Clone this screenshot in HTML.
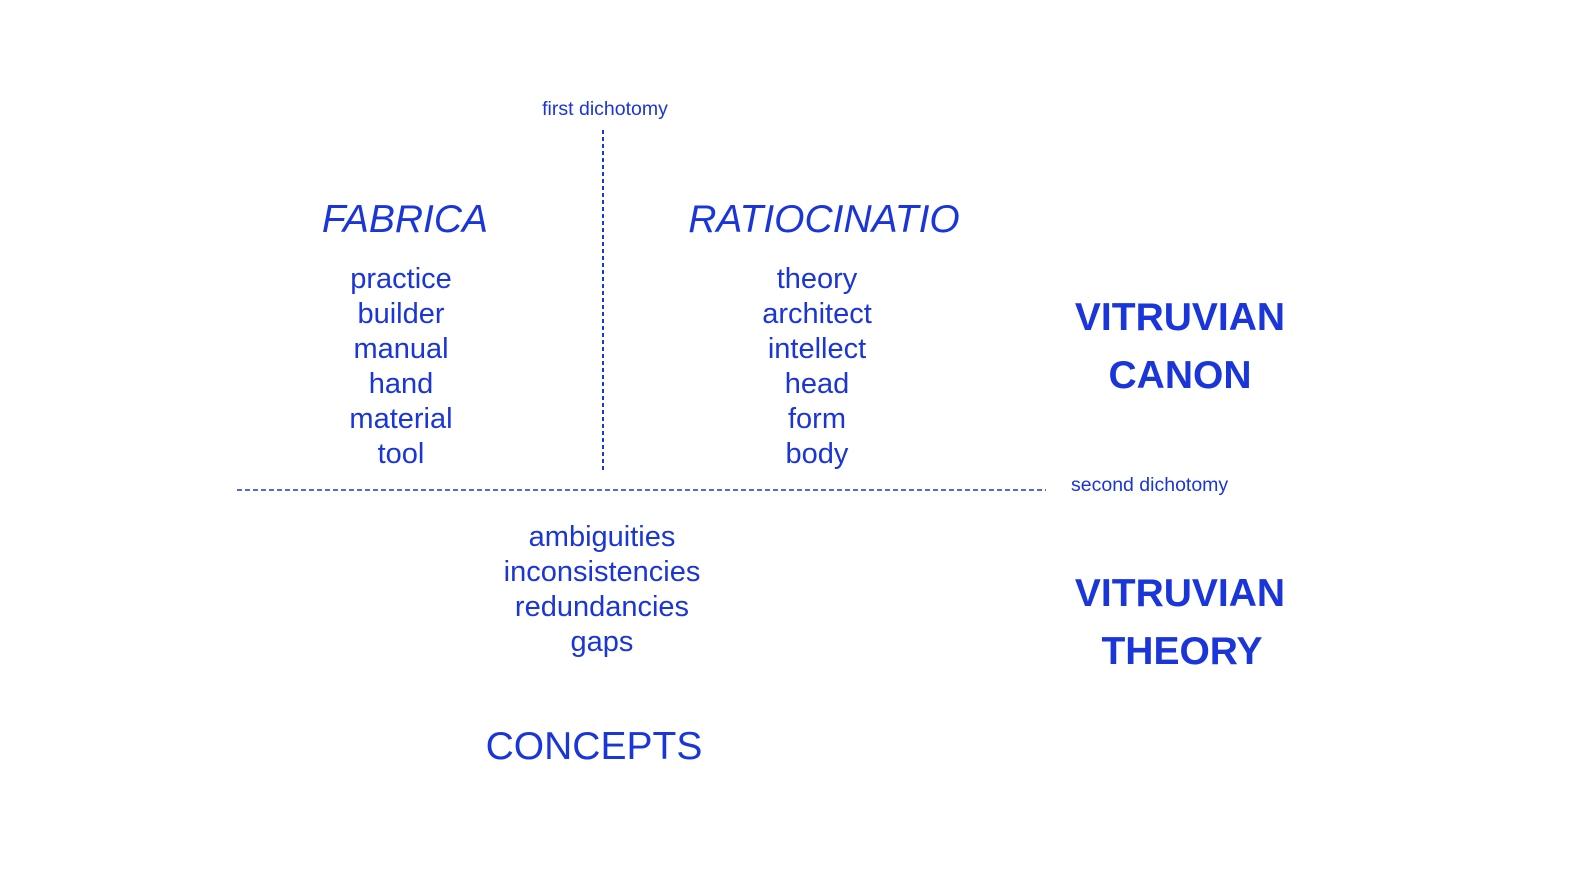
<!DOCTYPE html>
<html><head><meta charset="utf-8"><style>
html,body{margin:0;padding:0;background:#fff;width:1594px;height:892px;overflow:hidden}
svg text{font-family:"Liberation Sans",Arial,sans-serif;fill:#1a35d8}
</style></head><body>
<svg width="1594" height="892" viewBox="0 0 1594 892" xmlns="http://www.w3.org/2000/svg">
<line x1="603" y1="130" x2="603" y2="472" stroke="#1a35d8" stroke-width="2" stroke-dasharray="4,3"/>
<line x1="237" y1="490" x2="1046" y2="490" stroke="#1a35d8" stroke-width="1.6" stroke-dasharray="5,3"/>
<text x="605" y="115" font-size="19.5" text-anchor="middle">first dichotomy</text>
<text x="1071" y="491" font-size="19.5">second dichotomy</text>
<text x="405" y="232" font-size="39" font-style="italic" text-anchor="middle">FABRICA</text>
<text x="824" y="232" font-size="39" font-style="italic" text-anchor="middle">RATIOCINATIO</text>
<g font-size="29" text-anchor="middle">
<text x="401" y="288">practice</text>
<text x="401" y="323">builder</text>
<text x="401" y="358">manual</text>
<text x="401" y="393">hand</text>
<text x="401" y="428">material</text>
<text x="401" y="463">tool</text>
<text x="817" y="288">theory</text>
<text x="817" y="323">architect</text>
<text x="817" y="358">intellect</text>
<text x="817" y="393">head</text>
<text x="817" y="428">form</text>
<text x="817" y="463">body</text>
<text x="602" y="546">ambiguities</text>
<text x="602" y="581">inconsistencies</text>
<text x="602" y="616">redundancies</text>
<text x="602" y="651">gaps</text>
</g>
<g font-size="39" font-weight="bold" text-anchor="middle">
<text x="1180" y="330">VITRUVIAN</text>
<text x="1180" y="388">CANON</text>
<text x="1180" y="606">VITRUVIAN</text>
<text x="1182" y="664">THEORY</text>
</g>
<text x="594" y="759" font-size="39" text-anchor="middle">CONCEPTS</text>
</svg>
</body></html>
